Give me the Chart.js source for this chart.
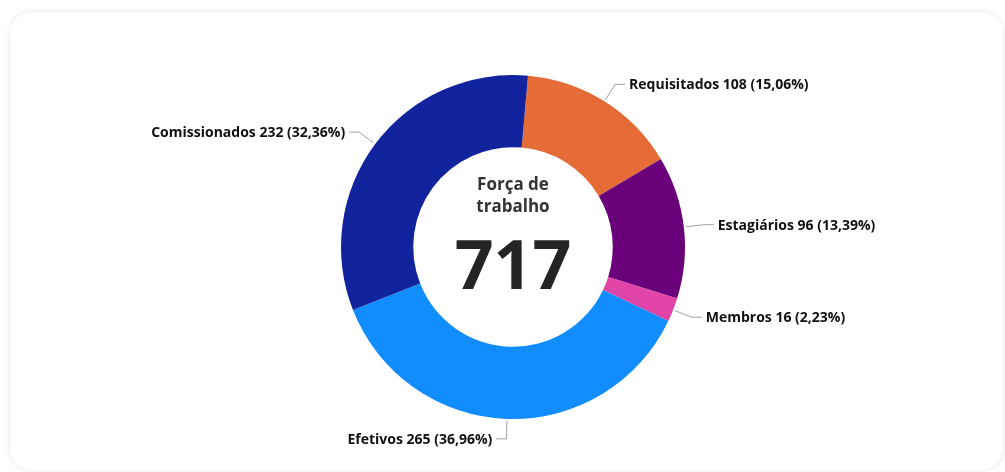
<!DOCTYPE html>
<html>
<head>
<meta charset="utf-8">
<script src="https://cdn.jsdelivr.net/npm/chart.js@4.4.0/dist/chart.umd.min.js"></script>
<style>
  html, body { margin: 0; padding: 0; background: #fff; }
  body { width: 1005px; height: 472px; position: relative; overflow: hidden; }
  .card {
    position: absolute; left: 10px; top: 12px; width: 993px; height: 458px;
    background: #fff; border-radius: 22px;
    box-shadow: 0 0 6px rgba(0,0,0,0.10);
  }
  #chart { position: absolute; left: 0; top: 0; }
</style>
</head>
<body>
<div class="card"></div>
<canvas id="chart" width="1005" height="472"></canvas>
<script>
const categorias = ['Requisitados', 'Estagiários', 'Membros', 'Efetivos', 'Comissionados']
const valores = [108, 96, 16, 265, 232]
const cores = ['#E66C37', '#6B007B', '#E044A7', '#118DFF', '#12239E']
const tituloCentro = ['Força de', 'trabalho']

const total = valores.reduce((a, b) => a + b, 0)

function formataPct(v) {
  return (v / total * 100).toFixed(2).replace('.', ',') + '%'
}

// rótulos externos com linha guia
const rotulosExternos = {
  id: 'rotulosExternos',
  afterDatasetsDraw(chart) {
    const ctx = chart.ctx
    const meta = chart.getDatasetMeta(0)
    ctx.save()
    meta.data.forEach((arc, i) => {
      const mid = (arc.startAngle + arc.endAngle) / 2
      const cx = arc.x, cy = arc.y, r = arc.outerRadius
      const cos = Math.cos(mid), sin = Math.sin(mid)
      const p0 = { x: cx + (r + 2) * cos, y: cy + (r + 2) * sin }
      const p1 = { x: cx + (r + 20) * cos, y: cy + (r + 20) * sin }
      const dir = cos >= 0 ? 1 : -1
      const p2 = { x: p1.x + dir * 10, y: p1.y }
      ctx.strokeStyle = '#A0A0A0'
      ctx.lineWidth = 1
      ctx.beginPath()
      ctx.moveTo(p0.x, p0.y)
      ctx.lineTo(p1.x, p1.y)
      ctx.lineTo(p2.x, p2.y)
      ctx.stroke()
      const txt = categorias[i] + ' ' + valores[i] + ' (' + formataPct(valores[i]) + ')'
      ctx.font = 'bold 14px "Open Sans"'
      ctx.fillStyle = '#111'
      ctx.textBaseline = 'middle'
      ctx.textAlign = dir > 0 ? 'left' : 'right'
      ctx.fillText(txt, p2.x + dir * 4, p2.y + 1)
    })
    ctx.restore()
  }
}

const textoCentro = {
  id: 'textoCentro',
  afterDatasetsDraw(chart) {
    const ctx = chart.ctx
    const arc = chart.getDatasetMeta(0).data[0]
    const cx = arc.x, cy = arc.y
    ctx.save()
    ctx.textAlign = 'center'
    ctx.textBaseline = 'middle'
    ctx.fillStyle = '#333333'
    ctx.font = 'bold 17px "Open Sans"'
    ctx.fillText(tituloCentro[0], cx, cy - 62)
    ctx.fillText(tituloCentro[1], cx, cy - 40)
    ctx.fillStyle = '#252423'
    ctx.font = 'bold 68px "Open Sans"'
    ctx.fillText(String(total), cx, cy + 23)
    ctx.restore()
  }
}

const config = {
  type: 'doughnut',
  data: {
    labels: categorias,
    datasets: [{
      data: valores,
      backgroundColor: cores,
      borderWidth: 0
    }]
  },
  options: {
    responsive: false,
    animation: false,
    rotation: 5,
    cutout: '58%',
    layout: {
      padding: { top: 75, bottom: 53, left: 21, right: 0 }
    },
    plugins: {
      legend: { display: false },
      tooltip: { enabled: false }
    }
  },
  plugins: [rotulosExternos, textoCentro]
}

const chartForca = new Chart(document.getElementById('chart').getContext('2d'), config)
</script>
</body>
</html>
